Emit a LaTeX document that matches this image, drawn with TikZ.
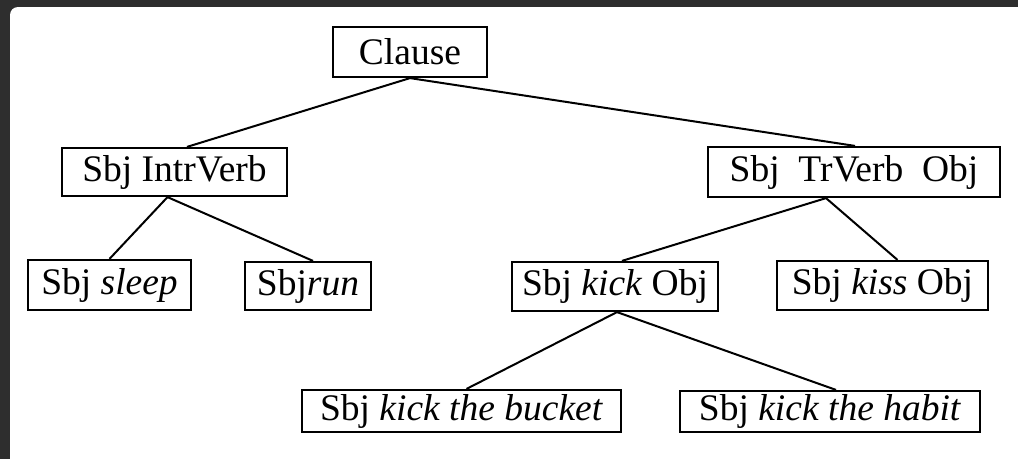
\documentclass[tikz,border=0pt]{standalone}
\usepackage{fontspec}
\setmainfont{Liberation Serif}
\begin{document}
\begin{tikzpicture}[x=1pt,y=-1pt,
  tbox/.style={draw=black, line width=2.2pt, inner sep=0pt, font=\fontsize{37.5}{42}\selectfont, text=black},
  edge/.style={draw=black, line width=2pt}]
\useasboundingbox (0,0) rectangle (1018,459);
\fill[black!82] (0,0) rectangle (1018,459);
\begin{scope}
\clip (0,0) rectangle (1018,459);
\fill[white, rounded corners=8pt] (10,7) rectangle (1040,480);
\end{scope}

\node[tbox, minimum width=154pt, minimum height=50pt] (clause) at (410,52) {Clause};
\node[tbox, minimum width=225pt, minimum height=48pt] (intr) at (174.5,172) {Sbj IntrVerb};
\node[tbox, minimum width=292pt, minimum height=50pt] (tr) at (854,172) {Sbj\ \ TrVerb\ \ Obj};
\node[tbox, minimum width=163pt, minimum height=50pt] (sleep) at (109.5,285) {Sbj \textit{sleep}};
\node[tbox, minimum width=126pt, minimum height=48pt] (run) at (308,286) {Sbj\textit{run}};
\node[tbox, minimum width=206pt, minimum height=49pt] (kick) at (615,286.5) {Sbj \textit{kick} Obj};
\node[tbox, minimum width=211pt, minimum height=49pt] (kiss) at (882.5,285.5) {Sbj \textit{kiss} Obj};
\node[tbox, minimum width=319pt, minimum height=42pt] (bucket) at (461.5,411) {Sbj \textit{kick the bucket}};
\node[tbox, minimum width=300pt, minimum height=41pt] (habit) at (830,411.5) {Sbj \textit{kick the habit}};

\draw[edge] (clause.south) -- ([xshift=12.5pt]intr.north);
\draw[edge] (clause.south) -- ([xshift=1pt]tr.north);
\draw[edge] ([xshift=-7pt]intr.south) -- (sleep.north);
\draw[edge] ([xshift=-7pt]intr.south) -- ([xshift=5pt]run.north);
\draw[edge] ([xshift=-28pt]tr.south) -- ([xshift=7pt]kick.north);
\draw[edge] ([xshift=-28pt]tr.south) -- ([xshift=15pt]kiss.north);
\draw[edge] ([xshift=2pt]kick.south) -- ([xshift=5pt]bucket.north);
\draw[edge] ([xshift=2pt]kick.south) -- ([xshift=6pt]habit.north);
\end{tikzpicture}
\end{document}
